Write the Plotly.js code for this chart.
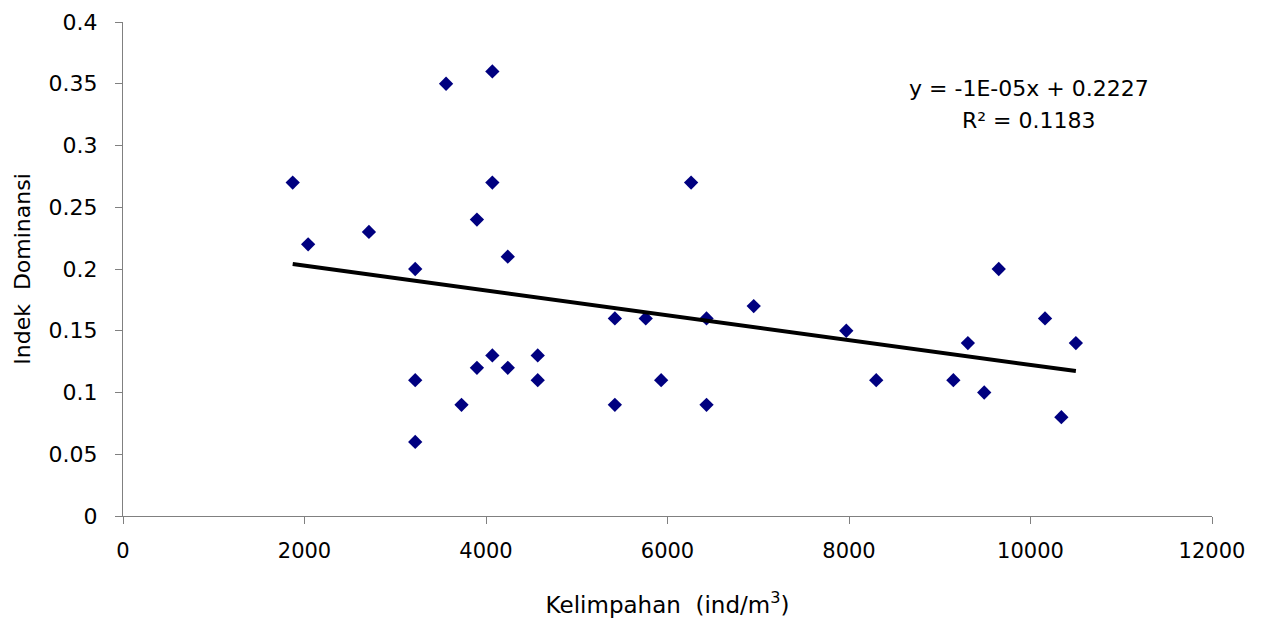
<!DOCTYPE html>
<html>
<head>
<meta charset="utf-8">
<script src="https://cdn.plot.ly/plotly-3.0.1.min.js"></script>
<style>html,body{margin:0;padding:0;background:#fff;}#chart{width:1261px;height:619px;}</style>
</head>
<body>
<div id="chart"></div>
<script>
// Kelimpahan (ind/m3) values
const kelimpahan = [1870, 2040, 2710, 3220, 3220, 3220, 3560, 3730, 3900, 3900, 4070, 4070, 4070, 4240, 4240, 4570, 4570, 5420, 5420, 5760, 5930, 6260, 6430, 6430, 6950, 7970, 8300, 9150, 9310, 9490, 9650, 10160, 10340, 10500];
// Indek Dominansi values
const dominansi = [0.27, 0.22, 0.23, 0.20, 0.11, 0.06, 0.35, 0.09, 0.24, 0.12, 0.36, 0.27, 0.13, 0.21, 0.12, 0.13, 0.11, 0.16, 0.09, 0.16, 0.11, 0.27, 0.16, 0.09, 0.17, 0.15, 0.11, 0.11, 0.14, 0.10, 0.20, 0.16, 0.08, 0.14];
const xTicks = [0, 2000, 4000, 6000, 8000, 10000, 12000];
const yTicks = [0, 0.05, 0.1, 0.15, 0.2, 0.25, 0.3, 0.35, 0.4];
const yTickText = ['0', '0.05', '0.1', '0.15', '0.2', '0.25', '0.3', '0.35', '0.4'];
const equationLine1 = 'y = -1E-05x + 0.2227';
const equationLine2 = 'R² = 0.1183';

// linear least-squares trend line from data
const n = kelimpahan.length;
let sx = 0, sy = 0, sxx = 0, sxy = 0;
for (let i = 0; i < n; i++) { sx += kelimpahan[i]; sy += dominansi[i]; sxx += kelimpahan[i]*kelimpahan[i]; sxy += kelimpahan[i]*dominansi[i]; }
const slope = (n*sxy - sx*sy) / (n*sxx - sx*sx);
const intercept = (sy - slope*sx) / n;
const xMin = Math.min(...kelimpahan), xMax = Math.max(...kelimpahan);

const font = '"DejaVu Sans", sans-serif';
const fs = 21;

const traces = [
  {
    x: kelimpahan, y: dominansi, type: 'scatter', mode: 'markers',
    marker: {symbol: 'diamond', size: 11, color: '#000080'},
    hoverinfo: 'x+y', showlegend: false
  },
  {
    x: [xMin, xMax], y: [intercept + slope*xMin, intercept + slope*xMax],
    type: 'scatter', mode: 'lines', line: {color: '#000000', width: 4},
    showlegend: false
  }
];

const layout = {
  width: 1261, height: 619,
  margin: {l: 123, r: 49, t: 22, b: 103},
  paper_bgcolor: '#ffffff', plot_bgcolor: '#ffffff',
  font: {family: font, size: fs, color: '#000000'},
  showlegend: false,
  xaxis: {
    range: [0, 12000], tickvals: xTicks, ticktext: xTicks.map(String),
    showgrid: false, zeroline: false, showline: true, linecolor: '#808080', linewidth: 1,
    ticks: 'outside', ticklen: 7, tickcolor: '#808080', tickwidth: 1,
    ticklabelstandoff: 9,
    tickfont: {family: font, size: fs, color: '#000000'},
    title: {text: 'Kelimpahan  (ind/m<sup>3</sup>)', font: {family: font, size: 23, color: '#000000'}, standoff: 34}
  },
  yaxis: {
    range: [0, 0.4], tickvals: yTicks, ticktext: yTickText,
    showgrid: false, zeroline: false, showline: true, linecolor: '#808080', linewidth: 1,
    ticks: 'outside', ticklen: 7, tickcolor: '#808080', tickwidth: 1,
    ticklabelstandoff: 13,
    tickfont: {family: font, size: 22, color: '#000000'},
    title: {text: 'Indek  Dominansi', font: {family: font, size: 22, color: '#000000'}, standoff: 11}
  },
  annotations: [
    {
      x: 0.832, y: 0.865, xref: 'paper', yref: 'paper', xanchor: 'center', yanchor: 'middle',
      text: equationLine1, showarrow: false,
      font: {family: font, size: 22, color: '#000000'}
    },
    {
      x: 0.832, y: 0.8, xref: 'paper', yref: 'paper', xanchor: 'center', yanchor: 'middle',
      text: equationLine2, showarrow: false,
      font: {family: font, size: 22, color: '#000000'}
    }
  ]
};

Plotly.newPlot('chart', traces, layout, {displayModeBar: false, staticPlot: true});
</script>
</body>
</html>
